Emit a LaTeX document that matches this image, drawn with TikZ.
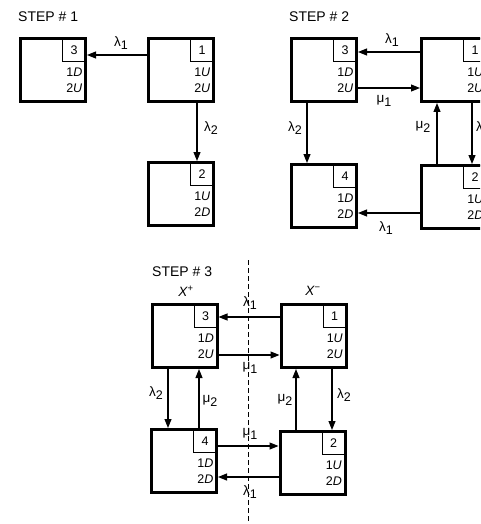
\documentclass[tikz,border=0pt]{standalone}
\usepackage{fontspec}
\setmainfont{Liberation Sans}
\usetikzlibrary{arrows.meta}
\tikzset{
 statebox/.style={draw, line width=3pt, minimum width=65pt, minimum height=63pt, inner sep=0pt, outer sep=0pt},
 numbox/.style={draw, line width=1pt, minimum width=23pt, minimum height=23pt, inner sep=0pt, outer sep=0pt, font=\fontsize{12.5}{12.5}\selectfont, anchor=north east},
 rowlab/.style={anchor=east, inner sep=0pt, font=\fontsize{12.5}{12.5}\selectfont},
 arr/.style={line width=1.1pt, -{Triangle[length=9pt,width=7pt]}, shorten >=1.5pt},
 glab/.style={inner sep=0pt, font=\fontsize{13.5}{13.5}\selectfont},
 steplab/.style={anchor=west, inner sep=0pt, font=\fontsize{14}{14}\selectfont},
 divider/.style={line width=0.7pt, dash pattern=on 5pt off 3pt},
}
\newcommand\stbox[6]{%
 \node[statebox] (#1) at (#2,#3) {};
 \node[numbox] (#1n) at (#1.north east) {#4};
 \node[rowlab] (#1a) at ([xshift=-3pt,yshift=-34pt]#1.north east) {#5};
 \node[rowlab] (#1b) at ([xshift=-3pt,yshift=-50pt]#1.north east) {#6};
}
\newcommand\gl[2]{#1\raisebox{-0.45ex}{\fontsize{12.5}{12.5}\selectfont #2}}
\begin{document}
\begin{tikzpicture}[x=1pt,y=-1pt]
\useasboundingbox (0,0) rectangle (480,524);
\clip (0,0) rectangle (480,524);
% STEP 1
\node[steplab] (st1) at (18,17) {STEP \# 1};
\stbox{sa3}{53}{70}{3}{1\textit{D}}{2\textit{U}}
\stbox{sa1}{181}{70}{1}{1\textit{U}}{2\textit{U}}
\stbox{sa2}{181}{194}{2}{1\textit{U}}{2\textit{D}}
\draw[arr] (sa1.west |- 0,55) -- (sa3.east |- 0,55);
\node[glab] (la1) at (121,43) {\gl{λ}{1}};
\draw[arr] (sa1.south -| 197,0) -- (sa2.north -| 197,0);
\node[glab] (la2) at (211,128) {\gl{λ}{2}};
% STEP 2
\node[steplab] (st2) at (289,17) {STEP \# 2};
\stbox{sb3}{324}{70}{3}{1\textit{D}}{2\textit{U}}
\stbox{sb1}{454}{70}{1}{1\textit{U}}{2\textit{U}}
\stbox{sb4}{324}{196}{4}{1\textit{D}}{2\textit{D}}
\stbox{sb2}{454}{197}{2}{1\textit{U}}{2\textit{D}}
\draw[arr] (sb1.west |- 0,52) -- (sb3.east |- 0,52);
\node[glab] (lb1) at (392,40) {\gl{λ}{1}};
\draw[arr] (sb3.east |- 0,88) -- (sb1.west |- 0,88);
\node[glab] (lb2) at (384,101) {\gl{μ}{1}};
\draw[arr] (sb3.south -| 307,0) -- (sb4.north -| 307,0);
\node[glab] (lb3) at (295,128) {\gl{λ}{2}};
\draw[arr] (sb2.north -| 437,0) -- (sb1.south -| 437,0);
\node[glab] (lb4) at (423,127) {\gl{μ}{2}};
\draw[arr] (sb1.south -| 472,0) -- (sb2.north -| 472,0);
\node[glab, anchor=west] (lb5) at (476,128) {\gl{λ}{2}};
\draw[arr] (sb2.west |- 0,213) -- (sb4.east |- 0,213);
\node[glab] (lb6) at (386,228) {\gl{λ}{1}};
% STEP 3
\coordinate (dtop) at (248,260);
\coordinate (dbot) at (248,524);
\draw[divider] (dtop) -- (dbot);
\node[steplab] (st3) at (152,272) {STEP \# 3};
\node[glab] (xp) at (186,291) {\textit{X}\textsuperscript{+}};
\node[glab] (xm) at (313,291) {\textit{X}\textsuperscript{−}};
\stbox{sc3}{184.5}{336}{3}{1\textit{D}}{2\textit{U}}
\stbox{sc1}{313.5}{336}{1}{1\textit{U}}{2\textit{U}}
\stbox{sc4}{184}{461}{4}{1\textit{D}}{2\textit{D}}
\stbox{sc2}{312.5}{463}{2}{1\textit{U}}{2\textit{D}}
\draw[arr] (sc1.west |- 0,317) -- (sc3.east |- 0,317);
\node[glab] (lc1) at (250,303) {\gl{λ}{1}};
\draw[arr] (sc3.east |- 0,355) -- (sc1.west |- 0,355);
\node[glab] (lc2) at (250,368) {\gl{μ}{1}};
\draw[arr] (sc3.south -| 168,0) -- (sc4.north -| 168,0);
\node[glab] (lc3) at (156,393) {\gl{λ}{2}};
\draw[arr] (sc4.north -| 199,0) -- (sc3.south -| 199,0);
\node[glab] (lc4) at (210,401) {\gl{μ}{2}};
\draw[arr] (sc2.north -| 296,0) -- (sc1.south -| 296,0);
\node[glab] (lc5) at (285,400) {\gl{μ}{2}};
\draw[arr] (sc1.south -| 332,0) -- (sc2.north -| 332,0);
\node[glab] (lc6) at (344,395) {\gl{λ}{2}};
\draw[arr] (sc4.east |- 0,446) -- (sc2.west |- 0,446);
\node[glab] (lc7) at (250,434) {\gl{μ}{1}};
\draw[arr] (sc2.west |- 0,477) -- (sc4.east |- 0,477);
\node[glab] (lc8) at (250,492) {\gl{λ}{1}};
\end{tikzpicture}
\end{document}
